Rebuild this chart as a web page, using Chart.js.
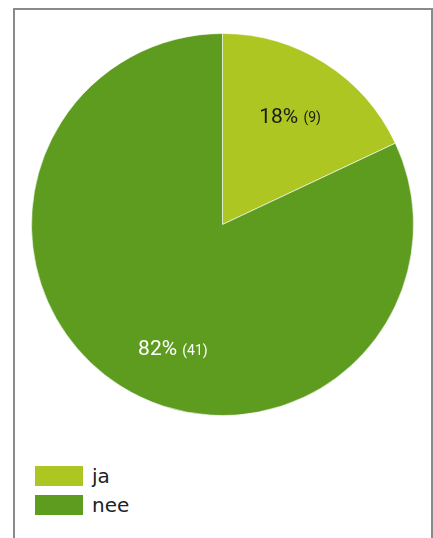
<!DOCTYPE html>
<html>
<head>
<meta charset="utf-8">
<script src="https://cdn.jsdelivr.net/npm/chart.js@4"></script>
<style>
	html, body { margin: 0; padding: 0; background: #fff; }
	body { width: 433px; height: 538px; position: relative; overflow: hidden; }
	.frame {
		position: absolute; left: 13px; top: 8px; width: 416px; height: 540px;
		border: 2px solid #8a8a8d; border-bottom: none;
	}
	.pie { position: absolute; left: 31px; top: 33px; width: 383px; height: 383px; }
	.legend { position: absolute; left: 35px; top: 461px; font-family: "DejaVu Sans", sans-serif; font-size: 20px; color: #222; }
	.legend div { height: 29px; display: flex; align-items: center; }
	.legend span.box { display: inline-block; width: 48px; height: 20px; margin-right: 9px; }
</style>
</head>
<body>
<div class="frame"></div>
<div class="pie"><canvas id="chart"></canvas></div>
<div class="legend" id="legend"></div>
<script>
const labels = ["ja", "nee"];
const counts = [9, 41];
const percents = [18, 82];
const colors = ["#adc621", "#5e9c20"];
const labelColors = ["#1a1a1a", "#ffffff"];

// legend
const legendEl = document.getElementById("legend");
labels.forEach((name, i) => {
	const row = document.createElement("div");
	row.innerHTML = '<span class="box" style="background:' + colors[i] + '"></span>' + name;
	legendEl.appendChild(row);
});

// percentage labels inside slices
const sliceLabels = {
	id: "sliceLabels",
	afterDatasetsDraw(chart, args, opts) {
		const ctx = chart.ctx;
		const meta = chart.getDatasetMeta(0);
		meta.data.forEach((arc, i) => {
			const mid = (arc.startAngle + arc.endAngle) / 2;
			const r = arc.outerRadius * 0.68;
			const nudge = opts.nudge[i] || [0, 0];
			const x = arc.x + Math.cos(mid) * r + nudge[0];
			const y = arc.y + Math.sin(mid) * r + nudge[1];
			const big = percents[i] + "% ";
			const small = "(" + counts[i] + ")";
			ctx.save();
			ctx.fillStyle = labelColors[i];
			ctx.textBaseline = "middle";
			ctx.font = "21px Roboto";
			const w1 = ctx.measureText(big).width;
			ctx.font = "14px Roboto";
			const w2 = ctx.measureText(small).width;
			const x0 = x - (w1 + w2) / 2;
			ctx.font = "21px Roboto";
			ctx.fillText(big, x0, y);
			ctx.font = "14px Roboto";
			ctx.fillText(small, x0 + w1, y + 1);
			ctx.restore();
		});
	}
};

new Chart(document.getElementById("chart").getContext("2d"), {
	type: "pie",
	data: {
		labels: labels,
		datasets: [
			{
				data: counts,
				backgroundColor: colors,
				borderColor: "rgba(255,255,255,0.6)",
				borderWidth: 1,
			},
		],
	},
	options: {
		responsive: true,
		maintainAspectRatio: false,
		animation: false,
		layout: { padding: 0 },
		plugins: {
			legend: { display: false },
			tooltip: { enabled: false },
			sliceLabels: { nudge: [[-2, 3], [20, 16]] },
		},
	},
	plugins: [sliceLabels],
});
</script>
</body>
</html>
